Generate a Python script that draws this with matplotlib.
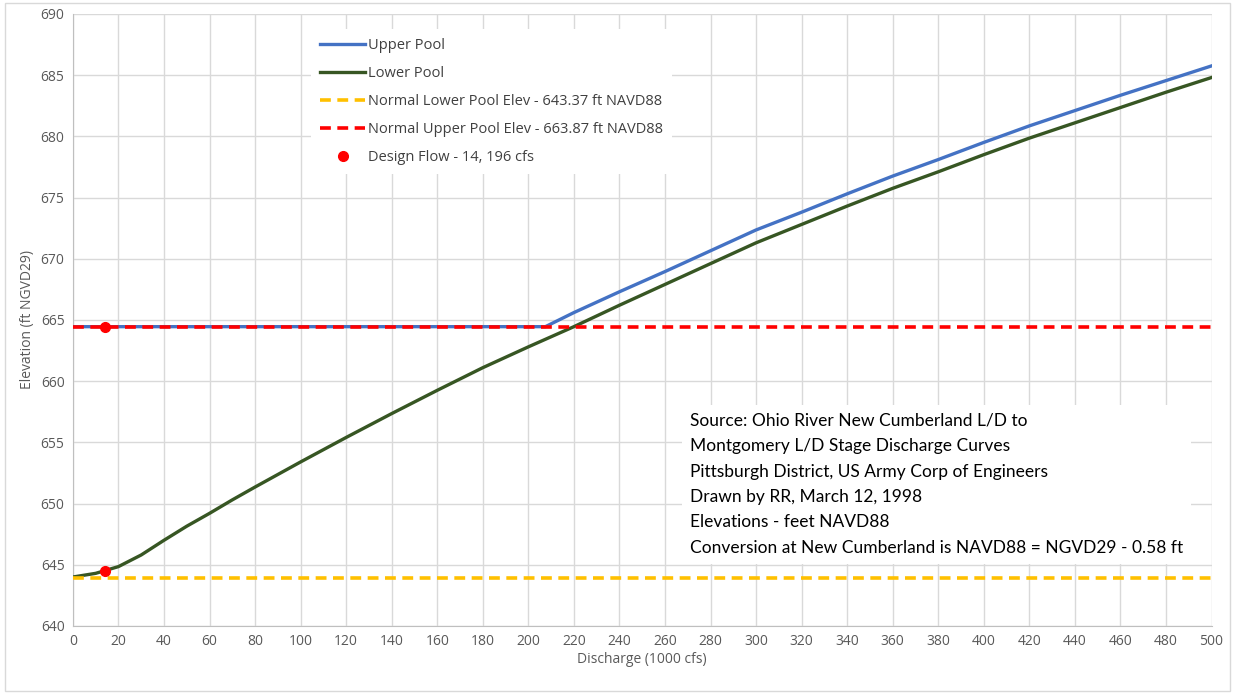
import matplotlib

matplotlib.use("Agg")
import matplotlib.pyplot as plt
from matplotlib.patches import Rectangle

# Stage-discharge curves (discharge in 1000 cfs, elevation in ft NGVD29)
upper_q = [0, 207.5, 220, 240, 260, 280, 300, 320, 340, 360, 380, 400, 420, 440, 460, 480, 500]
upper_elev = [664.45, 664.45, 665.6, 667.3, 668.95, 670.65, 672.35, 673.8, 675.3, 676.75,
              678.1, 679.5, 680.85, 682.1, 683.35, 684.55, 685.75]

lower_q = [0, 10, 20, 30, 40, 50, 60, 70, 80, 100, 120, 140, 160, 180, 200, 220, 240,
           260, 280, 300, 320, 340, 360, 380, 400, 420, 440, 460, 480, 500]
lower_elev = [644.0, 644.3, 644.85, 645.8, 647.0, 648.15, 649.2, 650.3, 651.35, 653.4,
              655.4, 657.35, 659.25, 661.1, 662.8, 664.45, 666.2, 667.9, 669.6, 671.3,
              672.8, 674.3, 675.75, 677.1, 678.5, 679.85, 681.1, 682.35, 683.6, 684.8]

# Normal pool elevations converted to NGVD29 (NAVD88 + 0.58)
normal_lower = 643.37 + 0.58
normal_upper = 663.87 + 0.58
q_range = [0, 500]

design_q = 14.196
design_elev = [644.52, 664.45]

labels = [
    "Upper Pool",
    "Lower Pool",
    "Normal Lower Pool Elev - 643.37 ft NAVD88",
    "Normal Upper Pool Elev - 663.87 ft NAVD88",
    "Design Flow - 14, 196 cfs",
]

note = ("Source: Ohio River New Cumberland L/D to\n"
        "Montgomery L/D Stage Discharge Curves\n"
        "Pittsburgh District, US Army Corp of Engineers\n"
        "Drawn by RR, March 12, 1998\n"
        "Elevations - feet NAVD88\n"
        "Conversion at New Cumberland is NAVD88 = NGVD29 - 0.58 ft")

plt.rcParams["font.family"] = ["Open Sans", "DejaVu Sans"]
gray = "#595959"

fig = plt.figure(figsize=(12.35, 6.94), dpi=100)
ax = fig.add_axes([0.059, 0.098, 0.922, 0.882])

ax.plot(upper_q, upper_elev, color="#4472C4", lw=2.4, label=labels[0], zorder=3)
ax.plot(lower_q, lower_elev, color="#375623", lw=2.4, label=labels[1], zorder=3)
ax.plot(q_range, [normal_lower] * 2, color="#FFC000", lw=2.6, dashes=(3, 1.8),
        label=labels[2], zorder=4)
ax.plot(q_range, [normal_upper] * 2, color="#FF0000", lw=2.6, dashes=(3, 1.8),
        label=labels[3], zorder=4)
ax.plot([design_q] * 2, design_elev, "o", color="#FF0000", ms=7, ls="none",
        label=labels[4], zorder=5)

ax.set_xlim(0, 500)
ax.set_ylim(640, 690)
ax.set_xticks(range(0, 501, 20))
ax.set_yticks(range(640, 691, 5))
ax.grid(True, color="#D9D9D9", lw=1)
ax.set_axisbelow(True)
ax.tick_params(length=0, labelsize=10, colors=gray, pad=6)
for side in ["top", "right"]:
    ax.spines[side].set_visible(False)
for side in ["left", "bottom"]:
    ax.spines[side].set_color("#BFBFBF")

ax.set_xlabel("Discharge (1000 cfs)", fontsize=10, color=gray, labelpad=2)
ax.set_ylabel("Elevation (ft NGVD29)", fontsize=10, color=gray, labelpad=4)

leg = ax.legend(loc="upper left", bbox_to_anchor=(0.203, 0.987), fontsize=10.5,
                handlelength=3.1, labelspacing=0.9, handletextpad=0.2,
                borderpad=0.6, fancybox=False, framealpha=1)
leg.get_frame().set_edgecolor("none")
for t in leg.get_texts():
    t.set_color("#404040")

ax.text(0.542, 0.348, note, transform=ax.transAxes, fontsize=12.5, family="Lato",
        va="top", ha="left", linespacing=1.72,
        bbox=dict(facecolor="white", edgecolor="none", pad=6), zorder=6)

fig.patches.append(Rectangle((0.004, 0.004), 0.992, 0.992, transform=fig.transFigure,
                             fill=False, edgecolor="#D9D9D9", lw=1))

fig.savefig("out.png", dpi=100)
